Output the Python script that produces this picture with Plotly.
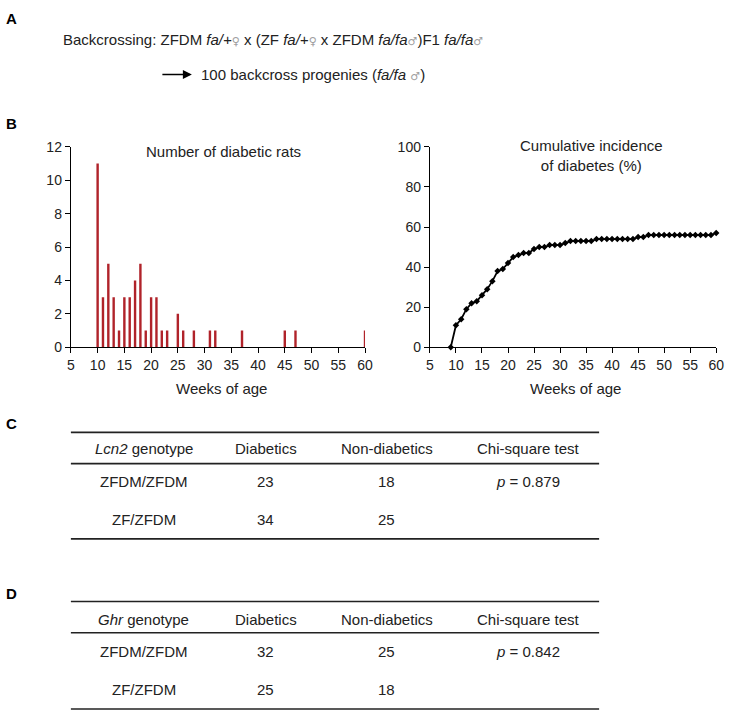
import plotly.graph_objects as go

# ---------------- data ----------------
bar_weeks = [10, 11, 12, 13, 14, 15, 16, 17, 18, 19, 20, 21, 22, 23, 25, 26, 28, 31, 32, 37, 45, 47, 60]
bar_counts = [11, 3, 5, 3, 1, 3, 3, 4, 5, 1, 3, 3, 1, 1, 2, 1, 1, 1, 1, 1, 1, 1, 1]

cum_weeks = list(range(9, 61))
cum_incidence = [0, 11, 14, 19, 22, 23, 26, 29, 33, 38, 39, 42, 45, 46, 47, 47, 49, 50, 50, 51,
                 51, 51, 52, 53, 53, 53, 53, 53, 54, 54, 54, 54, 54, 54, 54, 54, 55, 55, 56, 56,
                 56, 56, 56, 56, 56, 56, 56, 56, 56, 56, 56, 57]

x_ticks = [5, 10, 15, 20, 25, 30, 35, 40, 45, 50, 55, 60]
bar_y_ticks = [0, 2, 4, 6, 8, 10, 12]
cum_y_ticks = [0, 20, 40, 60, 80, 100]

table_header_c = ["<i>Lcn2</i> genotype", "Diabetics", "Non-diabetics", "Chi-square test"]
table_rows_c = [["ZFDM/ZFDM", "23", "18", "<i>p</i> = 0.879"],
                ["ZF/ZFDM", "34", "25", ""]]
table_header_d = ["<i>Ghr</i> genotype", "Diabetics", "Non-diabetics", "Chi-square test"]
table_rows_d = [["ZFDM/ZFDM", "32", "25", "<i>p</i> = 0.842"],
                ["ZF/ZFDM", "25", "18", ""]]

# ---------------- layout helpers ----------------
W, H = 735, 719
FONT = "Liberation Sans, Arial, sans-serif"
BAR_COLOR = "#B0232A"


def px(x):
    return x / W


def py(y):
    return 1 - y / H


fig = go.Figure()

fig.add_trace(go.Bar(x=bar_weeks, y=bar_counts, width=0.45, marker_color=BAR_COLOR,
                     marker_line_width=0, cliponaxis=False, xaxis="x", yaxis="y"))

fig.add_trace(go.Scatter(x=cum_weeks, y=cum_incidence, mode="lines+markers",
                         line=dict(color="black", width=1.8),
                         marker=dict(symbol="diamond", size=5, color="black"),
                         cliponaxis=False, xaxis="x2", yaxis="y2"))

axis_common = dict(showline=True, linecolor="black", linewidth=1.3, ticks="outside",
                   ticklen=5, tickwidth=1.3, tickcolor="black", showgrid=False,
                   zeroline=False, tickfont=dict(family=FONT, size=14, color="#222"),
                   fixedrange=True)

fig.update_layout(
    width=W, height=H, margin=dict(l=0, r=0, t=0, b=0),
    paper_bgcolor="white", plot_bgcolor="white", showlegend=False,
    font=dict(family=FONT, color="#222"),
    xaxis=dict(domain=[px(68), px(367)], range=[5, 60], tickvals=x_ticks, anchor="y", **axis_common),
    yaxis=dict(domain=[py(347), py(142)], range=[0, 12], tickvals=bar_y_ticks, anchor="x", **axis_common),
    xaxis2=dict(domain=[px(433), px(724)], range=[5, 60], tickvals=x_ticks, anchor="y2", **axis_common),
    yaxis2=dict(domain=[py(347), py(142)], range=[0, 100], tickvals=cum_y_ticks, anchor="x2", **axis_common),
)

annotations = []
shapes = []


def text(x, y, s, size=15, xanchor="center", color="#222"):
    annotations.append(dict(x=px(x), y=py(y), xref="paper", yref="paper", text=s,
                            showarrow=False, xanchor=xanchor, yanchor="middle",
                            font=dict(family=FONT, size=size, color=color)))


# panel letters
for letter, yy in [("A", 11), ("B", 118), ("C", 425), ("D", 599)]:
    text(0, yy, "<b>%s</b>" % letter, size=15, xanchor="left", color="black")

SYM = "<span style='font-family:DejaVu Sans;font-size:11px;fill:#a0a0a0'>%s</span>"
fem = SYM % "♀"
mal = SYM % "♂"
text(58, 32, "Backcrossing: ZFDM <i>fa/+</i>" + fem + " x (ZF <i>fa/+</i>" + fem +
     " x ZFDM <i>fa/fa</i>" + mal + ")F1 <i>fa/fa</i>" + mal, size=15, xanchor="left")
text(198, 68, "100 backcross progenies (<i>fa/fa</i> " + mal + ")", size=15, xanchor="left")
annotations.append(dict(x=px(191), y=py(68), xref="paper", yref="paper", ax=-31, ay=0,
                        axref="pixel", ayref="pixel", showarrow=True, arrowhead=2, arrowsize=1.2,
                        arrowwidth=1.5, arrowcolor="black", text=""))

# chart titles and axis titles
text(223, 147, "Number of diabetic rats", size=15)
text(597, 151, "Cumulative incidence<br>of diabetes (%)", size=15)
text(221, 389, "Weeks of age", size=15)
text(581, 389, "Weeks of age", size=15)

# tables
col_x = [142, 266, 389, 533]


def table(top, header_y, header_line, row_ys, bottom, header, rows):
    for yy in (top, header_line, bottom):
        shapes.append(dict(type="line", xref="paper", yref="paper", x0=px(68), x1=px(605),
                           y0=py(yy), y1=py(yy), line=dict(color="#222", width=1.6)))
    for cx, s in zip(col_x, header):
        text(cx, header_y, s, size=15)
    for ry, row in zip(row_ys, rows):
        for cx, s in zip(col_x, row):
            if s:
                text(cx, ry, s, size=15)


table(434, 451, 466, [484, 523], 543, table_header_c, table_rows_c)
table(607, 625, 639, [658, 697], 717, table_header_d, table_rows_d)

fig.update_layout(annotations=annotations, shapes=shapes)
fig.write_html("out.html")
